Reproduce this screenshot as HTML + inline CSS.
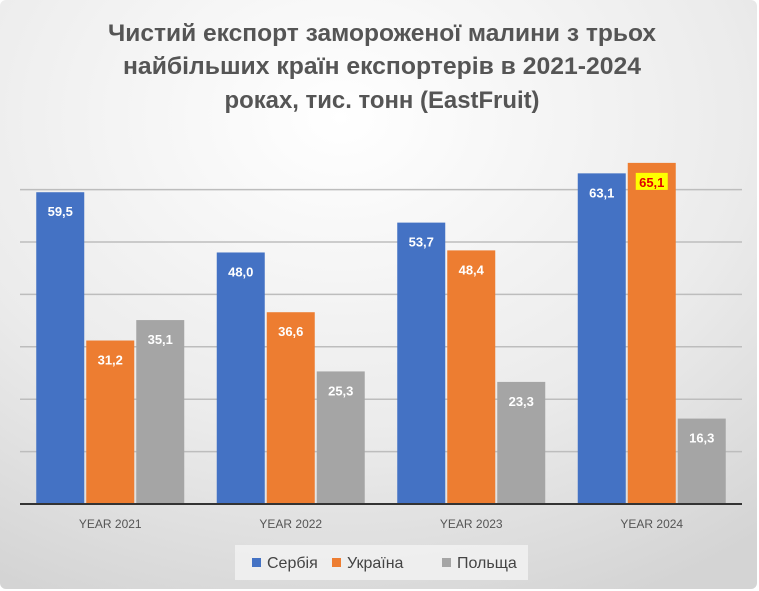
<!DOCTYPE html>
<html><head><meta charset="utf-8"><style>
html,body{margin:0;padding:0;background:#fff;}
svg{display:block;font-family:"Liberation Sans","DejaVu Sans",sans-serif;}
</style></head><body>
<svg width="759" height="591" viewBox="0 0 759 591">
<defs>
<radialGradient id="bg" cx="0.45" cy="0.2" r="0.9">
<stop offset="0" stop-color="#ffffff"/><stop offset="0.6" stop-color="#ebebeb"/><stop offset="1" stop-color="#d4d4d4"/>
</radialGradient>
</defs>
<rect x="0" y="0" width="757" height="589" rx="6" fill="url(#bg)"/>
<g fill="#555" font-weight="bold" font-size="24" text-anchor="middle">
<text x="382" y="41" textLength="548" lengthAdjust="spacingAndGlyphs">Чистий експорт замороженої малини з трьох</text>
<text x="382" y="74" textLength="518" lengthAdjust="spacingAndGlyphs">найбільших країн експортерів в 2021-2024</text>
<text x="382" y="108" textLength="315" lengthAdjust="spacingAndGlyphs">роках, тис. тонн (EastFruit)</text>
</g>
<g id="grid"></g>
<g id="bars"></g>
<g id="xlabels"></g>
<line x1="20" y1="504" x2="742" y2="504" stroke="#333" stroke-width="2"/>
<g>
<rect x="235" y="545" width="293" height="35" fill="#f2f2f2" opacity="0.8"/>
<g><rect x="252" y="558" width="9" height="9" fill="#4472c4"/><text x="267" y="568" font-size="16" fill="#444">Сербія</text></g>
<g><rect x="332" y="558" width="9" height="9" fill="#ed7d31"/><text x="347" y="568" font-size="16" fill="#444">Україна</text></g>
<g><rect x="442" y="558" width="9" height="9" fill="#a5a5a5"/><text x="457" y="568" font-size="16" fill="#444">Польща</text></g>
</g>
</svg>
<script>
const categories = ["YEAR 2021","YEAR 2022","YEAR 2023","YEAR 2024"];
const serbia = [59.5, 48.0, 53.7, 63.1];
const ukraine = [31.2, 36.6, 48.4, 65.1];
const poland = [35.1, 25.3, 23.3, 16.3];
const gridTicks = [0,10,20,30,40,50,60];
const NS="http://www.w3.org/2000/svg";
const x0=20,x1=742,yBase=504,pxPer=5.24;
const y=v=>yBase-v*pxPer;
const band=(x1-x0)/categories.length;
const grid=document.getElementById('grid');
gridTicks.forEach(t=>{ if(t===0) return;
 const l=document.createElementNS(NS,'line');
 l.setAttribute('x1',x0);l.setAttribute('x2',x1);l.setAttribute('y1',y(t));l.setAttribute('y2',y(t));
 l.setAttribute('stroke','#bdbdbd');l.setAttribute('stroke-width','1.5');
 
 
 grid.appendChild(l);});
const series=[{d:serbia,c:"#4472c4",n:"serbia"},{d:ukraine,c:"#ed7d31",n:"ukraine"},{d:poland,c:"#a5a5a5",n:"poland"}];
const bars=document.getElementById('bars');
const bw=48,gap=2;
categories.forEach((cat,i)=>{
 const cx=x0+band*(i+0.5);
 const start=cx-(3*bw+2*gap)/2;
 series.forEach((s,j)=>{
  const v=s.d[i];const bx=start+j*(bw+gap);
  const r=document.createElementNS(NS,'rect');
  r.setAttribute('x',bx);r.setAttribute('y',y(v));r.setAttribute('width',bw);r.setAttribute('height',yBase-y(v));
  r.setAttribute('fill',s.c);
  
  
  bars.appendChild(r);
  const label=v.toFixed(1).replace('.',',');
  const hl=(s.n==="ukraine"&&v===Math.max(...ukraine,...serbia));
  if(hl){
   const hb=document.createElementNS(NS,'rect');
   hb.setAttribute('x',bx+8);hb.setAttribute('y',y(v)+10);hb.setAttribute('width',32);hb.setAttribute('height',17);hb.setAttribute('fill','#ffff00');
   
   
   bars.appendChild(hb);
  }
  const t=document.createElementNS(NS,'text');
  t.setAttribute('x',bx+bw/2);t.setAttribute('y',y(v)+24);t.setAttribute('text-anchor','middle');
  t.setAttribute('font-size','13');t.setAttribute('font-weight','bold');t.setAttribute('fill',hl?'#e00000':'#fff');
  t.textContent=label;
  
  
  bars.appendChild(t);
 });
 const xl=document.createElementNS(NS,'text');
 xl.setAttribute('x',cx);xl.setAttribute('y',528);xl.setAttribute('text-anchor','middle');
 xl.setAttribute('font-size','12');xl.setAttribute('fill','#555');
 xl.textContent=cat;
 
 
 document.getElementById('xlabels').appendChild(xl);
});
</script>
</body></html>
